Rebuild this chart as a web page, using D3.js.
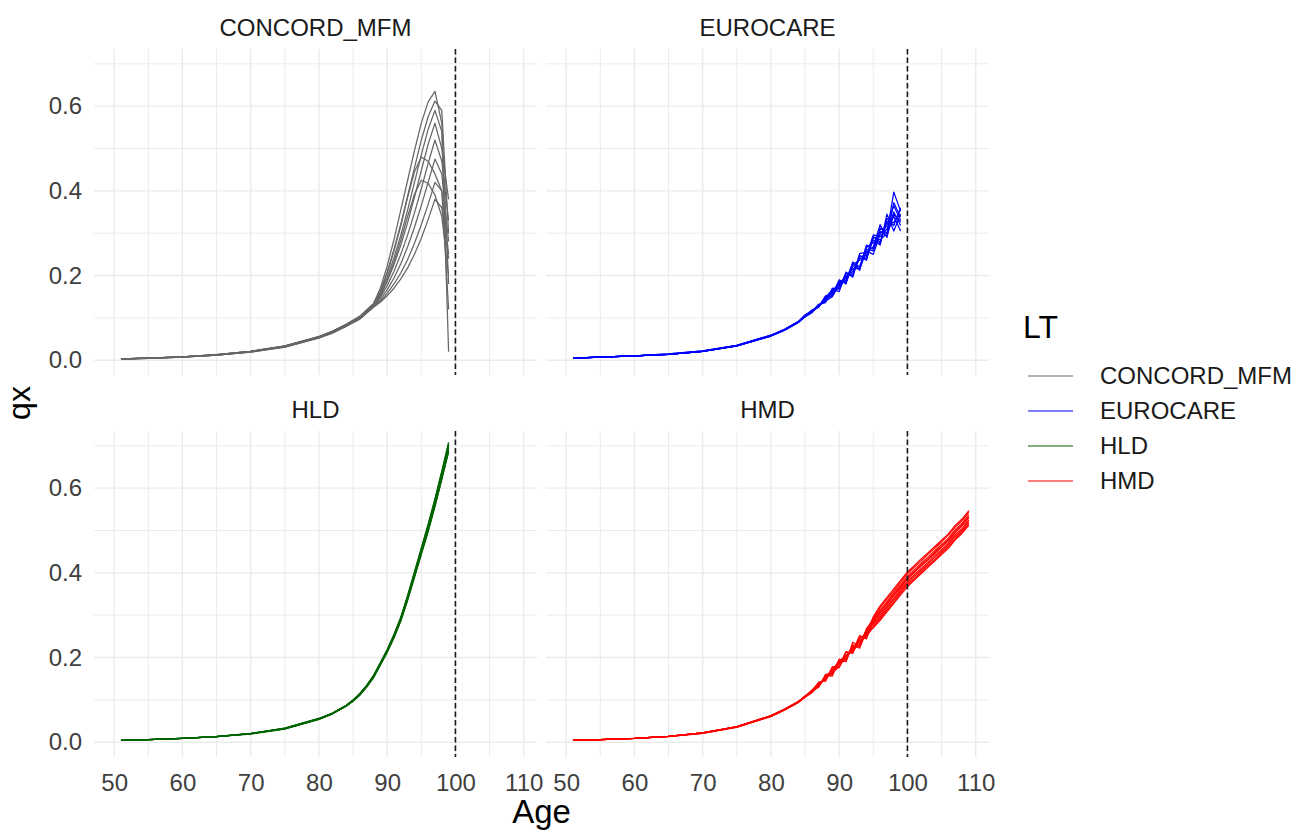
<!DOCTYPE html>
<html>
<head>
<meta charset="utf-8">
<script src="https://cdn.jsdelivr.net/npm/d3@7"></script>
<style>
  body { margin: 0; background: #fff; }
  svg { font-family: "Liberation Sans", Arial, sans-serif; }
  .grid-major { stroke: #ebebeb; stroke-width: 1.4; }
  .grid-minor { stroke: #ebebeb; stroke-width: 1; }
  .tick-label text { fill: #404040; font-size: 24px; }
  .strip { fill: #1a1a1a; font-size: 24px; }
</style>
</head>
<body>
<script>
// facets and colours
var tables = ['CONCORD_MFM', 'EUROCARE', 'HLD', 'HMD'];
var tableColors = ['#666666', '#0000ff', '#006400', '#ff0000'];

var ageTicks = [50, 60, 70, 80, 90, 100, 110];
var ageMinor = [55, 65, 75, 85, 95, 105];
var qxTicks = [0, 0.2, 0.4, 0.6];
var qxMinor = [0.1, 0.3, 0.5, 0.7];
var ageRange = [50, 109];
var qxRange = [0, 0.7];
var cutoffAge = 100;

// CONCORD_MFM
var concordAges = [51, 55, 60, 65, 70, 75, 80, 82, 84, 86, 88, 89, 90, 91, 92, 93, 94, 95, 96, 97, 98, 99];
var concordQx = [
	[0.003, 0.005, 0.008, 0.013, 0.021, 0.034, 0.056, 0.069, 0.085, 0.104, 0.134, 0.170, 0.222, 0.285, 0.355, 0.425, 0.495, 0.560, 0.610, 0.635, 0.560, 0.180],
	[0.003, 0.005, 0.008, 0.013, 0.021, 0.033, 0.055, 0.068, 0.084, 0.103, 0.132, 0.163, 0.208, 0.262, 0.322, 0.388, 0.455, 0.520, 0.575, 0.612, 0.590, 0.300],
	[0.003, 0.005, 0.008, 0.013, 0.021, 0.033, 0.055, 0.068, 0.084, 0.102, 0.131, 0.158, 0.196, 0.242, 0.295, 0.355, 0.420, 0.485, 0.545, 0.590, 0.540, 0.020],
	[0.003, 0.005, 0.008, 0.012, 0.020, 0.033, 0.055, 0.067, 0.083, 0.101, 0.130, 0.153, 0.186, 0.226, 0.272, 0.325, 0.385, 0.448, 0.510, 0.560, 0.500, 0.380],
	[0.003, 0.005, 0.008, 0.013, 0.021, 0.033, 0.055, 0.068, 0.084, 0.102, 0.132, 0.160, 0.205, 0.258, 0.318, 0.385, 0.445, 0.480, 0.470, 0.440, 0.400, 0.250],
	[0.003, 0.004, 0.008, 0.012, 0.020, 0.032, 0.054, 0.066, 0.082, 0.100, 0.128, 0.148, 0.176, 0.210, 0.250, 0.296, 0.348, 0.405, 0.465, 0.520, 0.470, 0.330],
	[0.003, 0.005, 0.008, 0.012, 0.020, 0.033, 0.054, 0.067, 0.083, 0.101, 0.130, 0.152, 0.188, 0.232, 0.284, 0.340, 0.392, 0.425, 0.418, 0.390, 0.340, 0.200],
	[0.003, 0.004, 0.007, 0.012, 0.020, 0.032, 0.053, 0.065, 0.081, 0.099, 0.127, 0.143, 0.166, 0.194, 0.228, 0.268, 0.314, 0.365, 0.420, 0.475, 0.440, 0.280],
	[0.003, 0.004, 0.007, 0.012, 0.019, 0.031, 0.053, 0.065, 0.080, 0.098, 0.126, 0.139, 0.158, 0.180, 0.206, 0.238, 0.276, 0.320, 0.368, 0.420, 0.400, 0.120],
	[0.003, 0.004, 0.007, 0.012, 0.019, 0.031, 0.052, 0.064, 0.080, 0.097, 0.125, 0.137, 0.152, 0.170, 0.192, 0.218, 0.250, 0.288, 0.332, 0.380, 0.360, 0.240]
];

// EUROCARE
var eurocareAges = [51, 55, 60, 65, 70, 75, 80, 82, 84, 85, 86, 87, 88, 89, 90, 91, 92, 93, 94, 95, 96, 97, 98, 99];
var eurocareQx = [
	[0.005, 0.007, 0.010, 0.014, 0.021, 0.034, 0.058, 0.072, 0.090, 0.106, 0.118, 0.126, 0.150, 0.152, 0.190, 0.180, 0.232, 0.218, 0.272, 0.262, 0.312, 0.300, 0.397, 0.352],
	[0.005, 0.007, 0.010, 0.014, 0.021, 0.035, 0.059, 0.073, 0.091, 0.104, 0.113, 0.131, 0.138, 0.168, 0.162, 0.205, 0.200, 0.248, 0.236, 0.292, 0.278, 0.335, 0.318, 0.360],
	[0.005, 0.007, 0.010, 0.014, 0.021, 0.034, 0.057, 0.071, 0.089, 0.103, 0.116, 0.127, 0.146, 0.160, 0.182, 0.186, 0.222, 0.222, 0.262, 0.258, 0.305, 0.292, 0.350, 0.318],
	[0.005, 0.007, 0.010, 0.015, 0.022, 0.035, 0.058, 0.072, 0.090, 0.107, 0.114, 0.130, 0.140, 0.150, 0.178, 0.200, 0.204, 0.240, 0.244, 0.284, 0.272, 0.345, 0.305, 0.345],
	[0.005, 0.007, 0.010, 0.014, 0.021, 0.034, 0.058, 0.072, 0.090, 0.105, 0.117, 0.125, 0.148, 0.166, 0.170, 0.196, 0.216, 0.216, 0.258, 0.250, 0.298, 0.318, 0.365, 0.330],
	[0.005, 0.007, 0.010, 0.014, 0.021, 0.034, 0.057, 0.071, 0.089, 0.102, 0.112, 0.129, 0.142, 0.154, 0.186, 0.184, 0.226, 0.236, 0.240, 0.290, 0.284, 0.300, 0.340, 0.305],
	[0.005, 0.007, 0.010, 0.015, 0.022, 0.035, 0.059, 0.073, 0.091, 0.106, 0.115, 0.132, 0.136, 0.170, 0.168, 0.208, 0.196, 0.252, 0.254, 0.268, 0.320, 0.290, 0.372, 0.338],
	[0.005, 0.007, 0.010, 0.014, 0.021, 0.034, 0.058, 0.072, 0.090, 0.104, 0.118, 0.126, 0.152, 0.156, 0.176, 0.190, 0.230, 0.212, 0.266, 0.278, 0.276, 0.328, 0.325, 0.356],
	[0.005, 0.007, 0.010, 0.014, 0.021, 0.034, 0.057, 0.071, 0.089, 0.103, 0.113, 0.128, 0.144, 0.162, 0.184, 0.194, 0.210, 0.244, 0.248, 0.296, 0.292, 0.310, 0.345, 0.326]
];

// HLD
var hldAges = [51, 55, 60, 65, 70, 75, 80, 82, 84, 85, 86, 87, 88, 89, 90, 91, 92, 93, 94, 95, 96, 97, 98, 99];
var hldQx = [
	[0.004, 0.006, 0.009, 0.013, 0.020, 0.032, 0.055, 0.068, 0.086, 0.098, 0.113, 0.132, 0.155, 0.185, 0.216, 0.252, 0.293, 0.344, 0.400, 0.456, 0.512, 0.572, 0.638, 0.705],
	[0.004, 0.006, 0.009, 0.013, 0.020, 0.033, 0.056, 0.069, 0.087, 0.099, 0.115, 0.134, 0.157, 0.187, 0.218, 0.253, 0.294, 0.344, 0.399, 0.455, 0.510, 0.570, 0.635, 0.702],
	[0.004, 0.006, 0.009, 0.013, 0.020, 0.032, 0.054, 0.067, 0.085, 0.097, 0.112, 0.131, 0.153, 0.183, 0.213, 0.248, 0.288, 0.337, 0.392, 0.446, 0.500, 0.560, 0.624, 0.692],
	[0.004, 0.006, 0.009, 0.013, 0.019, 0.031, 0.054, 0.067, 0.085, 0.097, 0.111, 0.130, 0.152, 0.182, 0.212, 0.246, 0.286, 0.335, 0.389, 0.443, 0.497, 0.556, 0.620, 0.688],
	[0.004, 0.006, 0.009, 0.013, 0.020, 0.032, 0.055, 0.068, 0.086, 0.098, 0.114, 0.133, 0.156, 0.186, 0.215, 0.251, 0.291, 0.341, 0.396, 0.451, 0.506, 0.566, 0.631, 0.699],
	[0.004, 0.006, 0.009, 0.013, 0.020, 0.032, 0.055, 0.068, 0.086, 0.098, 0.113, 0.132, 0.155, 0.184, 0.214, 0.249, 0.289, 0.339, 0.394, 0.448, 0.503, 0.562, 0.627, 0.695],
	[0.004, 0.006, 0.009, 0.014, 0.021, 0.033, 0.056, 0.069, 0.087, 0.100, 0.115, 0.134, 0.158, 0.188, 0.219, 0.255, 0.296, 0.347, 0.403, 0.459, 0.515, 0.575, 0.640, 0.708],
	[0.004, 0.006, 0.009, 0.013, 0.020, 0.032, 0.055, 0.068, 0.086, 0.097, 0.112, 0.131, 0.154, 0.184, 0.214, 0.250, 0.290, 0.339, 0.393, 0.447, 0.501, 0.560, 0.622, 0.685]
];

// HMD
var hmdAges = [51, 55, 60, 65, 70, 75, 80, 82, 84, 85, 86, 87, 88, 89, 90, 91, 92, 93, 94, 95, 96, 97, 98, 99, 100, 101, 102, 103, 104, 105, 106, 107, 108, 109];
var hmdQx = [
	[0.004, 0.006, 0.009, 0.014, 0.022, 0.036, 0.062, 0.077, 0.095, 0.108, 0.122, 0.130, 0.158, 0.156, 0.196, 0.190, 0.236, 0.226, 0.268, 0.290, 0.312, 0.332, 0.352, 0.372, 0.392, 0.407, 0.422, 0.437, 0.452, 0.467, 0.482, 0.502, 0.517, 0.537],
	[0.004, 0.006, 0.009, 0.014, 0.022, 0.036, 0.061, 0.076, 0.094, 0.107, 0.118, 0.142, 0.144, 0.178, 0.176, 0.214, 0.210, 0.248, 0.248, 0.284, 0.305, 0.325, 0.346, 0.365, 0.385, 0.400, 0.416, 0.430, 0.445, 0.461, 0.475, 0.495, 0.511, 0.530],
	[0.004, 0.006, 0.009, 0.014, 0.022, 0.037, 0.062, 0.078, 0.096, 0.109, 0.121, 0.133, 0.155, 0.160, 0.192, 0.198, 0.222, 0.238, 0.250, 0.272, 0.292, 0.312, 0.331, 0.352, 0.372, 0.386, 0.402, 0.417, 0.431, 0.447, 0.462, 0.481, 0.497, 0.517],
	[0.004, 0.006, 0.009, 0.014, 0.021, 0.036, 0.061, 0.076, 0.094, 0.106, 0.117, 0.138, 0.148, 0.172, 0.180, 0.206, 0.216, 0.252, 0.244, 0.292, 0.318, 0.338, 0.357, 0.378, 0.398, 0.413, 0.428, 0.444, 0.458, 0.473, 0.489, 0.508, 0.523, 0.543],
	[0.004, 0.006, 0.009, 0.014, 0.022, 0.036, 0.062, 0.077, 0.095, 0.108, 0.120, 0.131, 0.160, 0.162, 0.188, 0.192, 0.230, 0.222, 0.262, 0.270, 0.288, 0.308, 0.328, 0.348, 0.367, 0.383, 0.398, 0.413, 0.428, 0.443, 0.458, 0.478, 0.493, 0.513],
	[0.004, 0.006, 0.009, 0.014, 0.022, 0.037, 0.063, 0.078, 0.096, 0.107, 0.123, 0.140, 0.146, 0.176, 0.184, 0.212, 0.212, 0.244, 0.258, 0.296, 0.322, 0.342, 0.362, 0.382, 0.402, 0.417, 0.433, 0.447, 0.462, 0.477, 0.492, 0.512, 0.527, 0.547],
	[0.004, 0.006, 0.009, 0.014, 0.022, 0.036, 0.062, 0.077, 0.095, 0.109, 0.119, 0.134, 0.152, 0.168, 0.194, 0.200, 0.226, 0.234, 0.256, 0.280, 0.300, 0.320, 0.340, 0.361, 0.380, 0.395, 0.410, 0.425, 0.440, 0.455, 0.470, 0.490, 0.505, 0.525],
	[0.004, 0.006, 0.009, 0.013, 0.021, 0.035, 0.061, 0.076, 0.094, 0.106, 0.122, 0.137, 0.150, 0.164, 0.178, 0.204, 0.218, 0.230, 0.266, 0.276, 0.296, 0.316, 0.336, 0.356, 0.376, 0.391, 0.406, 0.421, 0.436, 0.451, 0.466, 0.486, 0.501, 0.521],
	[0.004, 0.006, 0.009, 0.014, 0.022, 0.036, 0.062, 0.077, 0.095, 0.108, 0.118, 0.132, 0.156, 0.170, 0.190, 0.196, 0.224, 0.240, 0.252, 0.286, 0.308, 0.328, 0.348, 0.368, 0.388, 0.403, 0.418, 0.433, 0.448, 0.463, 0.478, 0.498, 0.513, 0.533]
];

var ageSets = [concordAges, eurocareAges, hldAges, hmdAges];
var qxSets = [concordQx, eurocareQx, hldQx, hmdQx];

// layout
var width = 1294, height = 831;
var colX = [[94, 537], [546, 989]];
var rowY = [[49, 375], [431, 757]];

var svg = d3.select('body')
	.append('svg')
	.attr('width', width)
	.attr('height', height);

// ggplot style 5% expansion
function expand(r) {
	var pad = (r[1] - r[0]) * 0.05;
	return [r[0] - pad, r[1] + pad];
}

tables.forEach(function(name, i) {
	var col = i % 2, row = Math.floor(i / 2);
	var x = d3.scaleLinear().domain(expand(ageRange)).range(colX[col]);
	var y = d3.scaleLinear().domain(expand(qxRange)).range([rowY[row][1], rowY[row][0]]);
	var g = svg.append('g').attr('class', 'panel');

	// grid
	g.selectAll('.vminor').data(ageMinor).enter().append('line')
		.attr('class', 'grid-minor')
		.attr('x1', function(d) { return x(d); }).attr('x2', function(d) { return x(d); })
		.attr('y1', rowY[row][0]).attr('y2', rowY[row][1]);
	g.selectAll('.hminor').data(qxMinor).enter().append('line')
		.attr('class', 'grid-minor')
		.attr('x1', colX[col][0]).attr('x2', colX[col][1])
		.attr('y1', function(d) { return y(d); }).attr('y2', function(d) { return y(d); });
	g.selectAll('.vmajor').data(ageTicks).enter().append('line')
		.attr('class', 'grid-major')
		.attr('x1', function(d) { return x(d); }).attr('x2', function(d) { return x(d); })
		.attr('y1', rowY[row][0]).attr('y2', rowY[row][1]);
	g.selectAll('.hmajor').data(qxTicks).enter().append('line')
		.attr('class', 'grid-major')
		.attr('x1', colX[col][0]).attr('x2', colX[col][1])
		.attr('y1', function(d) { return y(d); }).attr('y2', function(d) { return y(d); });

	// life table lines
	var ages = ageSets[i];
	var line = d3.line()
		.x(function(d, j) { return x(ages[j]); })
		.y(function(d) { return y(d); });
	g.selectAll('.qx').data(qxSets[i]).enter().append('path')
		.attr('fill', 'none')
		.attr('stroke', tableColors[i])
		.attr('stroke-width', 1.25)
		.attr('stroke-linejoin', 'round')
		.attr('d', line);

	// cutoff
	g.append('line')
		.attr('x1', x(cutoffAge)).attr('x2', x(cutoffAge))
		.attr('y1', rowY[row][0]).attr('y2', rowY[row][1])
		.attr('stroke', '#1a1a1a')
		.attr('stroke-width', 1.6)
		.attr('stroke-dasharray', '5.5,3');

	// strip
	svg.append('text')
		.attr('class', 'strip')
		.attr('text-anchor', 'middle')
		.attr('x', (colX[col][0] + colX[col][1]) / 2)
		.attr('y', rowY[row][0] - 13)
		.text(name);

	if (row === 1) {
		var ax = svg.append('g')
			.attr('class', 'tick-label')
			.attr('transform', 'translate(0,' + (rowY[row][1] + 11) + ')')
			.call(d3.axisBottom(x).tickValues(ageTicks).tickSize(0).tickPadding(0));
		ax.select('.domain').remove();
		ax.selectAll('text').attr('dy', '0.95em').attr('font-size', 24).attr('font-family', null);
	}
	if (col === 0) {
		var ay = svg.append('g')
			.attr('class', 'tick-label')
			.attr('transform', 'translate(' + 82 + ',0)')
			.call(d3.axisLeft(y).tickValues(qxTicks).tickSize(0).tickPadding(0).tickFormat(d3.format('.1f')));
		ay.select('.domain').remove();
		ay.selectAll('text').attr('font-size', 24).attr('font-family', null);
	}
});

// axis titles
svg.append('text')
	.attr('x', (colX[0][0] + colX[1][1]) / 2)
	.attr('y', 823)
	.attr('text-anchor', 'middle')
	.attr('font-size', 33)
	.text('Age');

svg.append('text')
	.attr('transform', 'translate(30,' + ((rowY[0][0] + rowY[1][1]) / 2) + ') rotate(-90)')
	.attr('text-anchor', 'middle')
	.attr('font-size', 32)
	.text('qx');

// legend
var legend = svg.append('g').attr('transform', 'translate(1023,0)');
legend.append('text')
	.attr('x', 0)
	.attr('y', 338)
	.attr('font-size', 32)
	.text('LT');

var items = legend.selectAll('.item')
	.data(tables)
	.enter()
	.append('g')
	.attr('transform', function(d, i) { return 'translate(0,' + (376 + i * 35) + ')'; });
items.append('line')
	.attr('x1', 5).attr('x2', 50)
	.attr('stroke', function(d, i) { return tableColors[i]; })
	.attr('stroke-width', 1.2);
items.append('text')
	.attr('x', 77)
	.attr('dy', '0.35em')
	.attr('font-size', 24)
	.attr('fill', '#1a1a1a')
	.text(function(d) { return d; });
</script>
</body>
</html>
